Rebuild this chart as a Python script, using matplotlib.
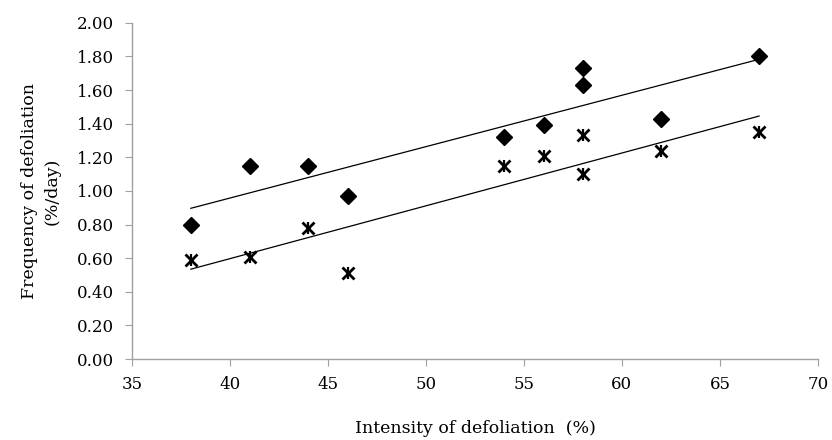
import matplotlib.pyplot as plt
import numpy as np

plt.rcParams['font.family'] = ['DejaVu Serif']

# intensity of defoliation (%)
intensity = [38, 41, 44, 46, 54, 56, 58, 58, 62, 67]
# frequency of defoliation (%/day), two series
freq_diamond = [0.80, 1.15, 1.15, 0.97, 1.32, 1.39, 1.73, 1.63, 1.43, 1.80]
freq_star = [0.59, 0.61, 0.78, 0.51, 1.15, 1.21, 1.33, 1.10, 1.24, 1.35]

yticks = np.arange(0, 2.01, 0.2)
xticks = range(35, 71, 5)

fig = plt.figure(figsize=(8.32, 4.4), dpi=100)
ax = fig.add_axes([0.1587, 0.184, 0.8243, 0.764])

x = np.array(intensity)
xl = np.array([min(intensity), max(intensity)])
for ys in (freq_diamond, freq_star):
    k, b = np.polyfit(x, ys, 1)
    ax.plot(xl, k * xl + b, color='black', lw=0.9, zorder=2)

ax.plot(intensity, freq_diamond, 'D', color='black', ms=8, zorder=3)
ax.plot(intensity, freq_star, 'x', color='black', ms=8, mew=2, zorder=3)
ax.plot(intensity, freq_star, '|', color='black', ms=9, mew=1.6, zorder=3)

ax.set_xlim(35, 70)
ax.set_ylim(0, 2.0)
ax.set_xticks(xticks)
ax.set_yticks(yticks)
ax.set_yticklabels(['%.2f' % v for v in yticks])

for s in ['top', 'right']:
    ax.spines[s].set_visible(False)
for s in ['left', 'bottom']:
    ax.spines[s].set_color('#a0a0a0')
    ax.spines[s].set_linewidth(1)
ax.tick_params(direction='out', length=5, color='#a0a0a0', labelsize=12, pad=8)
ax.tick_params(axis='x', pad=7)

ax.set_xlabel('Intensity of defoliation  (%)', fontsize=12.5, labelpad=20)
ax.set_ylabel('Frequency of defoliation\n(%/day)', fontsize=12.5, labelpad=12, linespacing=1.4)

fig.savefig('out.png', dpi=100)
